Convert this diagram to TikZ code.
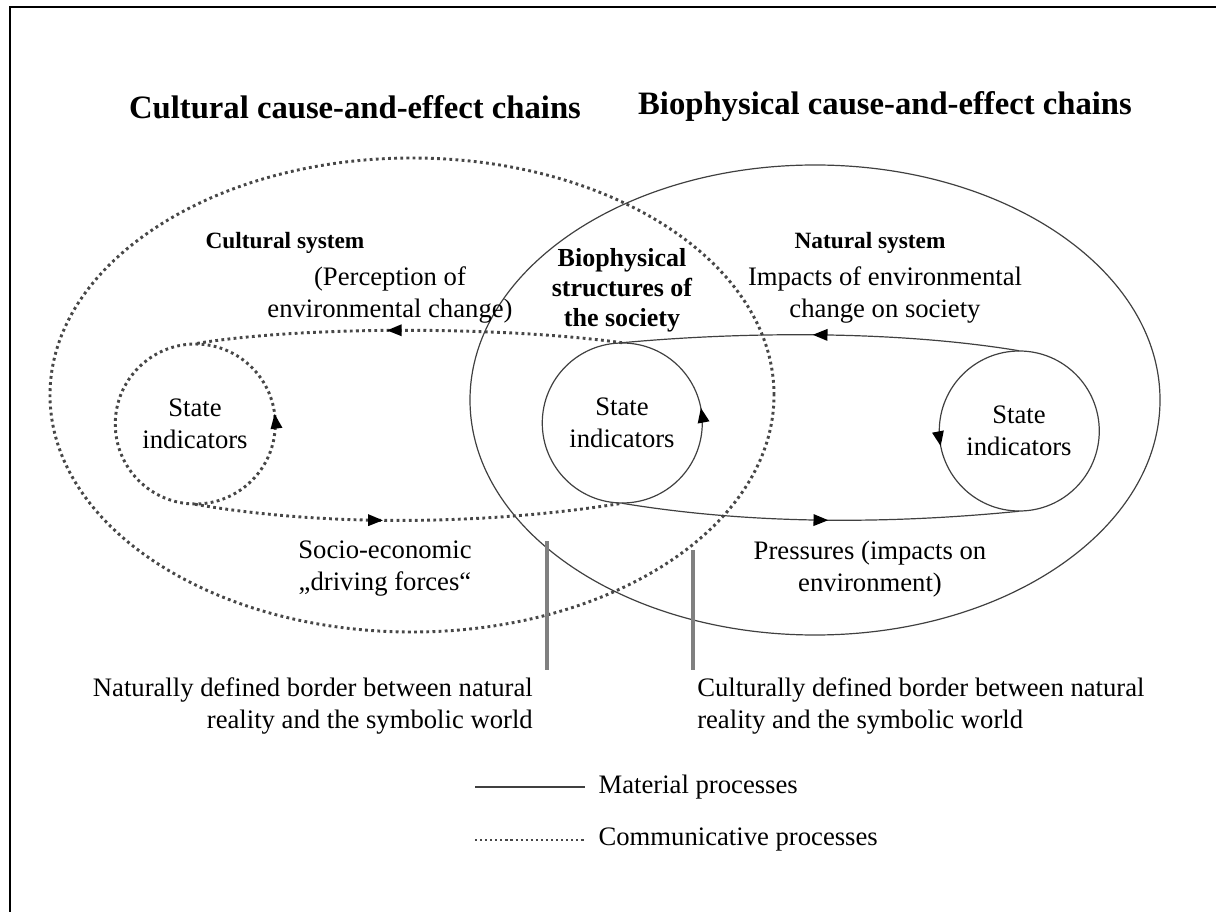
\documentclass[tikz,border=0pt]{standalone}
\usepackage{fontspec}
\setmainfont{Liberation Serif}
\usetikzlibrary{positioning,arrows.meta,decorations.markings}
\tikzset{
    material/.style = {draw = black!75, line width = 0.9pt},
    communic/.style = {draw = black!72, line width = 2.2pt, dash pattern = on 2.1pt off 2.5pt},
    border/.style = {draw = black!50, line width = 2.3pt},
    state/.style = {circle, minimum size = 120pt, inner sep = 0pt, align = center, font = \fontsize{20}{24}\selectfont},
    heading/.style = {inner sep = 0pt, font = \fontsize{24.5}{28}\selectfont\bfseries},
    subhead/.style = {inner sep = 0pt, align = center, font = \fontsize{17.5}{22.5}\selectfont\bfseries},
    txt/.style = {inner sep = 0pt, align = center, font = \fontsize{20}{24}\selectfont},
    arrowat/.style = {postaction = {decorate}, decoration = {markings,
        mark = at position #1 with {\arrow[black]{Triangle[length = 11pt, width = 9pt, line width = 0pt]}}}}
}
\begin{document}
\begin{tikzpicture}[x = 0.75pt, y = 0.75pt]
    \useasboundingbox (0,0) rectangle (1216,911);
    \draw[line width = 2.2pt] (10,-10) -- (10,904) -- (1230,904);

    % headings
    \node[heading] (cultchain) at (355,804) {Cultural cause-and-effect chains};
    \node[heading] (biochain) at (885,804) {Biophysical cause-and-effect chains};

    % the two systems
    \draw[communic] (412,516) ellipse [x radius = 362, y radius = 237];
    \draw[material] (815,511) ellipse [x radius = 345, y radius = 235];
    \node[subhead] (cultsys) at (285,668) {Cultural system};
    \node[subhead] (natsys) at (870,668) {Natural system};
    \node[subhead, font = \fontsize{19.5}{22.5}\selectfont\bfseries] (biostruct) at (622,621) {Biophysical\\structures of\\the society};

    % state indicators
    \node[state] (sleft) at (195,487) {State\\indicators};
    \node[state] (smid) at (622,488) {State\\indicators};
    \node[state] (sright) at (1019,480) {State\\indicators};
    \draw[communic, arrowat = 0.02] (sleft.east) arc [start angle = 0, end angle = 360, radius = 80];
    \draw[material, arrowat = 0.03] (smid.east) arc [start angle = 0, end angle = 360, radius = 80];
    \draw[material, arrowat = 0.53] (sright.east) arc [start angle = 0, end angle = 360, radius = 80];

    % chains
    \draw[communic, arrowat = 0.55] (smid.north) .. controls (500,585) and (300,585) .. (sleft.north);
    \draw[communic, arrowat = 0.44] (sleft.south) .. controls (320,385) and (480,385) .. (smid.south);
    \draw[material, arrowat = 0.52] (sright.north) .. controls (900,580) and (750,580) .. (smid.north);
    \draw[material, arrowat = 0.52] (smid.south) .. controls (760,385) and (900,388) .. (sright.south);
    \node[txt] (percept) at (390,616) {(Perception of\\environmental change)};
    \node[txt] (impacts) at (885,616) {Impacts of environmental\\change on society};
    \node[txt] (driving) at (385,342) {Socio-economic\\„driving forces“};
    \node[txt] (pressures) at (870,342) {Pressures (impacts on\\environment)};

    % borders
    \coordinate (natborder) at (547,370);
    \coordinate (natfoot) at (547,241);
    \coordinate (culborder) at (693,361);
    \coordinate (culfoot) at (693,241);
    \draw[border] (natborder) -- (natfoot);
    \draw[border] (culborder) -- (culfoot);
    \node[txt, align = right, anchor = east] (natnote) at (533,205) {Naturally defined border between natural\\reality and the symbolic world};
    \node[txt, align = left, anchor = west] (culnote) at (697,205) {Culturally defined border between natural\\reality and the symbolic world};

    % legend
    \coordinate (mata) at (475,124);
    \coordinate (matb) at (585,124);
    \coordinate (coma) at (475,71);
    \coordinate (comb) at (585,71);
    \draw[material] (mata) -- (matb);
    \draw[communic, line width = 1.6pt, dash pattern = on 1.6pt off 2.2pt] (coma) -- (comb);
    \node[txt, anchor = west, right = 10pt of matb] (mattext) {Material processes};
    \node[txt, anchor = west, right = 10pt of comb] (comtext) {Communicative processes};
\end{tikzpicture}
\end{document}
